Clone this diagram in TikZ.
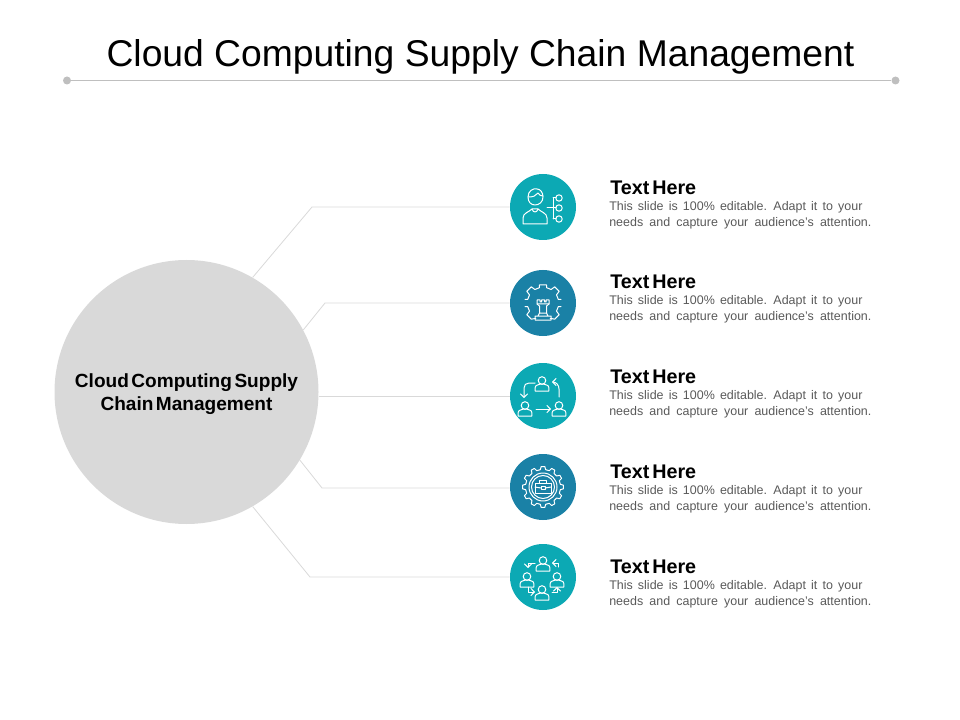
\documentclass[tikz,border=0pt]{standalone}
\usepackage{fontspec}
\setmainfont{Liberation Sans}
\usetikzlibrary{arrows.meta}
\definecolor{teal1}{HTML}{0CA9B4}
\definecolor{blue1}{HTML}{1A81A6}
\definecolor{gray1}{HTML}{D9D9D9}
\definecolor{rule1}{HTML}{BFBFBF}
\definecolor{body1}{HTML}{595959}
\newcommand{\sk}[1]{\spaceskip=#1em\relax}
\tikzset{
  hub/.style={circle,fill=gray1,minimum size=198pt,inner sep=0pt},
  hubtxt/.style={inner sep=0pt,align=center,text=black,font=\bfseries\fontsize{14.3}{17.25}\selectfont},
  iconbg/.style={circle,minimum size=49.5pt,inner sep=0pt},
  link/.style={draw=gray1,line width=0.6pt},
  headtxt/.style={anchor=west,inner sep=0pt,text=black,font=\bfseries\fontsize{14.8}{16}\selectfont},
  bodytxt/.style={anchor=north west,inner sep=0pt,align=left,text=body1,font=\fontsize{9.35}{12}\selectfont},
  ic/.style={draw=white,line width=0.75pt,line cap=round,line join=round},
  arr/.style={ic,-{Straight Barb[length=2.6pt,width=5.5pt]}},
}
\newcommand{\psn}[2]{%
  \draw[ic] (#1,#2-3.5) circle (3.8);
  \draw[ic] (#1-6.8,#2+7) -- (#1-6.8,#2+3.5) .. controls (#1-6.8,#2+0.8) and (#1-3,#2+0.8) .. (#1-2,#2+0.2) -- (#1+2,#2+0.2) .. controls (#1+3,#2+0.8) and (#1+6.8,#2+0.8) .. (#1+6.8,#2+3.5) -- (#1+6.8,#2+7) -- cycle;
}
\newcommand{\gearshape}[2]{%
  \draw[ic] (-9:#1) \foreach \a in {0,30,...,330} { -- (\a-9:#1) -- (\a-5:#2) -- (\a+5:#2) -- (\a+9:#1) -- (\a+21:#1) } -- cycle;
}
\newcommand{\blurb}{\sk{0.415}This slide is 100\% editable. Adapt it to your\\\sk{0.495}needs and capture your audience's attention.}
\begin{document}
\begin{tikzpicture}[x=0.75pt,y=-0.75pt]
\useasboundingbox (0,0) rectangle (960,720);
% title
\node[inner sep=0pt,font=\fontsize{27.95}{32}\selectfont,text=black] (title) at (480.5,56.5) {Cloud Computing Supply Chain Management};
\node[circle,fill=rule1,minimum size=6pt,inner sep=0pt] (ruleL) at (67,80.5) {};
\node[circle,fill=rule1,minimum size=6pt,inner sep=0pt] (ruleR) at (895.5,80.5) {};
\draw[draw=rule1,line width=0.6pt] (ruleL) -- (ruleR);
% hub and icon discs
\node[hub] (main) at (186.5,392) {};
\node[hubtxt] (maintxt) at (186.5,394.5) {\sk{0.13}Cloud Computing Supply\\\sk{0.13}Chain Management};
\node[iconbg,fill=teal1] (i1) at (543,207) {};
\node[iconbg,fill=blue1] (i2) at (543,303) {};
\node[iconbg,fill=teal1] (i3) at (543,396) {};
\node[iconbg,fill=blue1] (i4) at (543,487) {};
\node[iconbg,fill=teal1] (i5) at (543,577) {};
% connectors
\coordinate (e1) at (312,207);
\coordinate (e2) at (325,303);
\coordinate (e4) at (322,488);
\coordinate (e5) at (310,577);
\draw[link] (main.60) -- (e1) -- (i1.west);
\draw[link] (main.28) -- (e2) -- (i2.west);
\draw[link] (main.0 |- i3.west) -- (i3.west);
\draw[link] (main.-31) -- (e4) -- (i4.west |- e4);
\draw[link] (main.-60) -- (e5) -- (i5.west);
% texts
\foreach \n/\y in {1/187,2/281,3/376,4/471,5/566}{
  \node[headtxt] (h\n) at (610,\y+0.5) {\sk{0.15}Text Here};
  \node[bodytxt] (b\n) at (609,\y+14.5) {\blurb};
}
% icon 1
\begin{scope}[shift={(i1.center)}]
  \draw[ic] (-15,-10) .. controls (-15,-16) and (-10,-19) .. (-6,-18) .. controls (-3,-18) and (0,-15) .. (0,-10) .. controls (0,-5) and (-4,-2) .. (-8,-2) .. controls (-12,-2) and (-15,-5) .. (-15,-10) -- cycle;
  \draw[ic] (-15,-10) .. controls (-10,-10) and (-7,-11) .. (-5,-14) .. controls (-4,-12) and (-2,-11) .. (0,-11);
  \draw[ic] (-20,17) -- (-20,11) .. controls (-20,6) and (-14,5) .. (-11,2) -- (-5,2) .. controls (-2,5) and (4,6) .. (4,11) -- (4,17) -- cycle;
  \draw[ic] (-11,2) .. controls (-10,6) and (-6,6) .. (-5,2);
  \draw[ic] (4,1) -- (13,1);
  \draw[ic] (10,-9) -- (10,12);
  \draw[ic] (10,-9) -- (13,-9) (10,12) -- (13,12);
  \draw[ic] (16,-9) circle (3.2) (16,1) circle (3.2) (16,12) circle (3.2);
\end{scope}
% icon 2
\begin{scope}[shift={(i2.center)}]
  \begin{scope}[scale=0.9]
  \draw[ic] (-8,17) -- (-13,18) -- (-18,13) -- (-15,9) -- (-17,4) -- (-20,4);
  \draw[ic] (-20,-4) -- (-17,-4) -- (-15,-9) -- (-18,-13) -- (-13,-18) -- (-9,-15) -- (-4,-17) -- (-4,-20) -- (4,-20) -- (4,-17) -- (9,-15) -- (13,-18) -- (18,-13) -- (15,-9) -- (17,-4) -- (20,-4);
  \draw[ic] (20,4) -- (17,4) -- (15,9) -- (18,13) -- (13,18) -- (8,17);
  \end{scope}
  \draw[ic] (-6,-3) -- (-6,1) -- (-3.5,3) -- (-3.5,10) -- (3.5,10) -- (3.5,3) -- (6,1) -- (6,-3) -- (3,-3) -- (3,-1) -- (1.5,-1) -- (1.5,-3) -- (-1.5,-3) -- (-1.5,-1) -- (-3,-1) -- (-3,-3) -- cycle;
  \draw[ic] (-6,1) -- (6,1) (-3.5,10) -- (-5,13) -- (5,13) -- (3.5,10) (-8,13) -- (8,13) -- (8,17) -- (-8,17) -- cycle;
\end{scope}
% icon 3
\begin{scope}[shift={(i3.center)}]
  \psn{-1}{-12}
  \psn{-18}{13}
  \psn{16}{13}
  \draw[arr] (-7,13) -- (8,13);
  \draw[arr] (-8,-13) -- (-14,-13) .. controls (-17,-13) and (-19,-11) .. (-19,-8) -- (-19,2);
  \draw[arr] (16,1) -- (16,-7) .. controls (16,-11) and (13,-14) .. (9,-14);
\end{scope}
% icon 4
\begin{scope}[shift={(i4.center)}]
  \gearshape{17.5}{20.5}
  \draw[ic] (0,0) circle (14) (0,0) circle (11.5);
  \draw[ic] (-8,-4) rectangle (8,6.5);
  \draw[ic] (-3.5,-4) -- (-3.5,-7) -- (3.5,-7) -- (3.5,-4);
  \draw[ic] (-8,0) -- (-2,1) (8,0) -- (2,1);
  \draw[ic] (-2,-0.5) rectangle (2,2.5);
\end{scope}
% icon 5
\begin{scope}[shift={(i5.center)}]
  \psn{0}{-13}
  \psn{-16}{3}
  \psn{14}{3}
  \psn{-1}{16}
  \draw[arr] (-8,-14) -- (-15,-14) -- (-15,-9);
  \draw[arr] (15,-10) -- (15,-14) -- (9,-14);
  \draw[arr] (-15,10) -- (-15,15) -- (-8,15);
  \draw[arr] (9,15) -- (14,15) -- (14,10);
\end{scope}
\end{tikzpicture}
\end{document}
